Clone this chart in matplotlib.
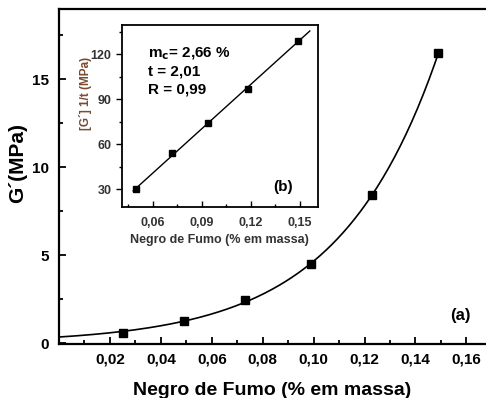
import numpy as np
import matplotlib
matplotlib.use('Agg')
import matplotlib.pyplot as plt
from matplotlib.ticker import MultipleLocator, FuncFormatter

plt.rcParams['font.family'] = ['Liberation Sans', 'DejaVu Sans']

# dados do gráfico principal (a): G' versus teor de negro de fumo
negro_fumo = [0.025, 0.049, 0.073, 0.099, 0.123, 0.149]
g_linha = [0.6, 1.25, 2.45, 4.5, 8.4, 16.5]

# dados do gráfico inserido (b): [G']^(1/t) versus teor
negro_fumo_b = [0.050, 0.072, 0.094, 0.118, 0.149]
g_linha_b = [30, 54, 74, 97, 129]

texto_ajuste = ['m$_\\mathbf{c}$= 2,66 %', 't = 2,01', 'R = 0,99']


def virgula(casas):
    return FuncFormatter(lambda v, p: ('%.*f' % (casas, v)).replace('.', ','))


def ajuste_exp(x, y):
    # y = a*exp(b*x) + c, busca em b e minimos quadrados em a, c
    melhor = None
    for b in np.linspace(5, 60, 1101):
        A = np.column_stack([np.exp(b * x), np.ones_like(x)])
        sol, res, _, _ = np.linalg.lstsq(A, y, rcond=None)
        erro = np.sum((A @ sol - y) ** 2)
        if melhor is None or erro < melhor[0]:
            melhor = (erro, sol[0], b, sol[1])
    return melhor[1:]


fig = plt.figure(figsize=(4.86, 3.98), dpi=100)

# ---- gráfico principal ----
ax = fig.add_axes([0.1214, 0.1357, 0.8786, 0.8417])
x = np.array(negro_fumo)
y = np.array(g_linha)
a0, b0, c0 = ajuste_exp(x, y)
xc = np.linspace(0, 0.149, 200)
ax.plot(xc, a0 * np.exp(b0 * xc) + c0, color='black', lw=1.2)
ax.plot(x, y, 's', color='black', ms=5.5)

ax.set_xlim(0, 0.1677)
ax.set_ylim(-0.05, 19.0)
ax.spines['right'].set_visible(False)
for s in ['left', 'bottom', 'top']:
    ax.spines[s].set_linewidth(1.6)
ax.xaxis.set_major_locator(MultipleLocator(0.02))
ax.xaxis.set_minor_locator(MultipleLocator(0.01))
ax.yaxis.set_major_locator(MultipleLocator(5))
ax.yaxis.set_minor_locator(MultipleLocator(2.5))
ax.xaxis.set_major_formatter(virgula(2))
ax.tick_params(which='both', direction='in', top=False, right=False, width=1.3)
ax.tick_params(which='major', length=5, labelsize=11)
ax.tick_params(axis='y', which='major', pad=7)
ax.tick_params(axis='x', which='major', pad=6)
ax.tick_params(which='minor', length=3)
ax.set_xticks([0.02, 0.04, 0.06, 0.08, 0.10, 0.12, 0.14, 0.16])
for lb in ax.get_xticklabels() + ax.get_yticklabels():
    lb.set_fontweight('bold')
ax.set_xlabel('Negro de Fumo (% em massa)', fontsize=14, fontweight='bold', labelpad=11)
ax.set_ylabel('G\u00b4(MPa)', fontsize=15, fontweight='bold')
ax.yaxis.set_label_coords(-0.075, 0.54)
ax.text(0.965, 0.085, '(a)', transform=ax.transAxes, fontsize=12,
        fontweight='bold', ha='right', va='center')

# ---- gráfico inserido ----
axb = fig.add_axes([0.2504, 0.4799, 0.4039, 0.4573])
xb = np.array(negro_fumo_b)
yb = np.array(g_linha_b)
a, b = np.polyfit(xb, yb, 1)
xl = np.array([0.048, 0.156])
axb.plot(xl, a * xl + b, color='black', lw=1.0)
axb.plot(xb, yb, 's', color='black', ms=5)

axb.set_xlim(0.041, 0.161)
axb.set_ylim(18, 139.5)
for s in axb.spines.values():
    s.set_linewidth(1.3)
axb.xaxis.set_major_locator(MultipleLocator(0.03))
axb.xaxis.set_minor_locator(MultipleLocator(0.015))
axb.yaxis.set_major_locator(MultipleLocator(30))
axb.yaxis.set_minor_locator(MultipleLocator(15))
axb.xaxis.set_major_formatter(virgula(2))
axb.tick_params(axis='x', which='both', direction='in', top=False)
axb.tick_params(axis='y', which='both', direction='out', right=False)
axb.tick_params(which='major', length=4, labelsize=9, labelcolor='#333333', width=1.0)
axb.tick_params(which='minor', length=2.5, width=1.0)
axb.tick_params(axis='x', which='major', pad=7)
for lb in axb.get_xticklabels() + axb.get_yticklabels():
    lb.set_fontweight('bold')
axb.set_xlabel('Negro de Fumo (% em massa)', fontsize=9, fontweight='bold',
               color='#333333', labelpad=4)
axb.set_ylabel('[G\u00b4] 1/t (MPa)', fontsize=8.5, fontweight='bold',
               color='#7a4a2e')
axb.yaxis.set_label_coords(-0.151, 0.626)

yt = 0.84
for linha in texto_ajuste:
    axb.text(0.135, yt, linha, transform=axb.transAxes, fontsize=11,
             fontweight='bold', ha='left', va='center')
    yt -= 0.096
axb.text(0.82, 0.11, '(b)', transform=axb.transAxes, fontsize=11,
         fontweight='bold', ha='center', va='center')

fig.savefig('out.png', dpi=100)
